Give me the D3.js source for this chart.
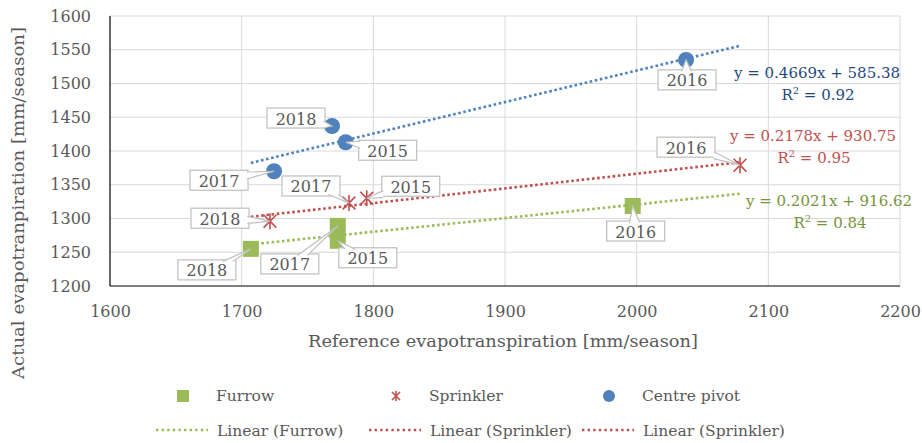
<!DOCTYPE html>
<html>
<head>
<meta charset="utf-8">
<script src="https://cdn.jsdelivr.net/npm/d3@7"></script>
<style>
  html, body { margin: 0; padding: 0; background: #fff; }
  svg { display: block; }
  text { font-family: "DejaVu Serif", "Liberation Serif", serif; }
</style>
</head>
<body>
<svg id="chart" width="922" height="443"></svg>
<script>
// ---------------- data ----------------
const years = ["2015", "2016", "2017", "2018"];
const furrowX = [1773, 1997, 1773, 1707];
const furrowY = [1267, 1318.5, 1289, 1255];
const sprinklerX = [1795, 2078.5, 1781.5, 1721.5];
const sprinklerY = [1330, 1379, 1323, 1296];
const pivotX = [1779, 2037.5, 1724.6, 1768.6];
const pivotY = [1413, 1535, 1370, 1437];

const seriesNames = ["Furrow", "Sprinkler", "Centre pivot"];
const trendNames = ["Linear (Furrow)", "Linear (Sprinkler)", "Linear (Sprinkler)"];
const slopes = [0.2021, 0.2178, 0.4669];
const intercepts = [916.62, 930.75, 585.38];
const r2 = [0.84, 0.95, 0.92];

const xTicks = [1600, 1700, 1800, 1900, 2000, 2100, 2200];
const yTicks = [1200, 1250, 1300, 1350, 1400, 1450, 1500, 1550, 1600];
const xTitle = "Reference evapotranspiration [mm/season]";
const yTitle = "Actual evapotranpiration [mm/season]";

// ---------------- layout / style ----------------
const colors = ["#9bbb59", "#c0504d", "#4f81bd"];
const eqColors = ["#77933c", "#c0504d", "#1f497d"];
// data label box offsets (px) from point, order follows years
const labelOffsets = [
  [[30, 17], [3, 25], [-48, 38], [-44, 21]],
  [[44, -12], [-54, -18], [-38, -17], [-50, -3]],
  [[42, 8], [1, 20], [-55, 9], [-36, -8]]
];
// equation offsets (px) from trendline end
const eqOffsets = [[89, 12], [73, -21], [77, 32]];

const svg = d3.select("#chart");
const x = d3.scaleLinear().domain([1600, 2200]).range([110, 900]);
const y = d3.scaleLinear().domain([1200, 1600]).range([286, 16]);

const series = [
  { xs: furrowX, ys: furrowY },
  { xs: sprinklerX, ys: sprinklerY },
  { xs: pivotX, ys: pivotY }
];

// grid
const grid = svg.append("g");
grid.selectAll("line.v").data(xTicks.slice(1)).join("line")
  .attr("x1", d => x(d)).attr("x2", d => x(d))
  .attr("y1", y(1200)).attr("y2", y(1600))
  .attr("stroke", "#d9d9d9").attr("stroke-width", 1);
grid.selectAll("line.h").data(yTicks.slice(1)).join("line")
  .attr("x1", x(1600)).attr("x2", x(2200))
  .attr("y1", d => y(d)).attr("y2", d => y(d))
  .attr("stroke", "#d9d9d9").attr("stroke-width", 1);

// axes
const xAxis = svg.append("g").attr("transform", `translate(0,${y(1200)})`)
  .call(d3.axisBottom(x).tickValues(xTicks).tickSize(0).tickPadding(20).tickFormat(d3.format("d")));
const yAxis = svg.append("g").attr("transform", `translate(${x(1600)},0)`)
  .call(d3.axisLeft(y).tickValues(yTicks).tickSize(0).tickPadding(19).tickFormat(d3.format("d")));
[xAxis, yAxis].forEach(a => {
  a.select(".domain").remove();
  a.selectAll("text").attr("fill", "#595959").style("font-size", "16px")
    .style("font-family", '"DejaVu Serif", serif');
});
svg.append("line").attr("x1", x(1600)).attr("x2", x(1600)).attr("y1", y(1600)).attr("y2", y(1200))
  .attr("stroke", "#000").attr("stroke-width", 1.2);
svg.append("line").attr("x1", x(1600)).attr("x2", x(2200)).attr("y1", y(1200)).attr("y2", y(1200))
  .attr("stroke", "#000").attr("stroke-width", 1.2);

// axis titles
svg.append("text").attr("x", 503).attr("y", 341).attr("text-anchor", "middle")
  .attr("dominant-baseline", "central").attr("fill", "#595959")
  .style("font-size", "17.5px").attr("textLength", 390).attr("lengthAdjust", "spacingAndGlyphs")
  .text(xTitle);
svg.append("text").attr("transform", "translate(18,203) rotate(-90)").attr("text-anchor", "middle")
  .attr("dominant-baseline", "central").attr("fill", "#595959")
  .style("font-size", "17.5px").attr("textLength", 352).attr("lengthAdjust", "spacingAndGlyphs")
  .text(yTitle);

// trendlines
const allX = [].concat(furrowX, sprinklerX, pivotX);
const xExt = d3.extent(allX);
const line = d3.line().x(d => x(d[0])).y(d => y(d[1]));
const trends = svg.append("g");
series.forEach((s, i) => {
  const pts = xExt.map(v => [v, slopes[i] * v + intercepts[i]]);
  trends.append("path").attr("d", line(pts)).attr("fill", "none")
    .attr("stroke", colors[i]).attr("stroke-width", 2.6)
    .attr("stroke-dasharray", "2.6 2.6");
});

// marker drawing
function drawMarker(g, type, cx, cy, size) {
  if (type === 0) {
    g.append("rect").attr("x", cx - size / 2).attr("y", cy - size / 2)
      .attr("width", size).attr("height", size).attr("fill", colors[0]);
  } else if (type === 1) {
    const h = size / 2;
    const p = `M${cx - h * 0.8},${cy - h * 0.8}L${cx + h * 0.8},${cy + h * 0.8}` +
      `M${cx + h * 0.8},${cy - h * 0.8}L${cx - h * 0.8},${cy + h * 0.8}` +
      `M${cx},${cy - h}L${cx},${cy + h}`;
    g.append("path").attr("d", p).attr("stroke", colors[1]).attr("stroke-width", 1.6).attr("fill", "none");
  } else {
    g.append("circle").attr("cx", cx).attr("cy", cy).attr("r", size / 2).attr("fill", colors[2]);
  }
}

const marks = svg.append("g");
series.forEach((s, i) => {
  s.xs.forEach((xv, j) => drawMarker(marks, i, x(xv), y(s.ys[j]), 16));
});

// data labels (callouts)
const labels = svg.append("g");
const bw = 58, bh = 20;
series.forEach((s, i) => {
  s.xs.forEach((xv, j) => {
    const px = x(xv), py = y(s.ys[j]);
    const cx = px + labelOffsets[i][j][0], cy = py + labelOffsets[i][j][1];
    const g = labels.append("g");
    g.append("rect").attr("x", cx - bw / 2).attr("y", cy - bh / 2).attr("width", bw).attr("height", bh)
      .attr("fill", "#fff").attr("stroke", "#bfbfbf").attr("stroke-width", 1.2);
    // wedge
    const dx = px - cx, dy = py - cy;
    let b1, b2;
    const tx = dx !== 0 ? (bw / 2) / Math.abs(dx) : Infinity;
    const ty = dy !== 0 ? (bh / 2) / Math.abs(dy) : Infinity;
    if (tx < ty) {
      const ex = cx + Math.sign(dx) * (bw / 2 - 1.5);
      const ey = cy + dy * tx;
      const ey2 = Math.max(cy - bh / 2 + 2, Math.min(cy + bh / 2 - 2, ey));
      b1 = [ex, ey2 - 3.5]; b2 = [ex, ey2 + 3.5];
    } else {
      const ey = cy + Math.sign(dy) * (bh / 2 - 1.5);
      const ex = cx + dx * ty;
      const ex2 = Math.max(cx - bw / 2 + 4, Math.min(cx + bw / 2 - 4, ex));
      b1 = [ex2 - 5, ey]; b2 = [ex2 + 5, ey];
    }
    g.append("path").attr("d", `M${b1[0]},${b1[1]}L${px},${py}L${b2[0]},${b2[1]}`)
      .attr("fill", "#fff").attr("stroke", "#bfbfbf").attr("stroke-width", 1.2);
    g.append("text").attr("x", cx).attr("y", cy + 1).attr("text-anchor", "middle")
      .attr("dominant-baseline", "central").attr("fill", "#595959")
      .style("font-size", "16px").text(years[j]);
  });
});

// equations
const eqs = svg.append("g");
series.forEach((s, i) => {
  const ex = x(xExt[1]), ey = y(slopes[i] * xExt[1] + intercepts[i]);
  const cx = ex + eqOffsets[i][0], by = ey + eqOffsets[i][1];
  eqs.append("text").attr("x", cx).attr("y", by).attr("text-anchor", "middle")
    .attr("fill", eqColors[i]).style("font-size", "15px")
    .text(`y = ${slopes[i].toFixed(4)}x + ${intercepts[i].toFixed(2)}`);
  const t = eqs.append("text").attr("x", cx + 1).attr("y", by + 22).attr("text-anchor", "middle")
    .attr("fill", eqColors[i]).style("font-size", "15px");
  t.append("tspan").text("R");
  t.append("tspan").attr("dy", -6).style("font-size", "10px").text("2");
  t.append("tspan").attr("dy", 6).text(` = ${r2[i].toFixed(2)}`);
});

// legend
const leg = svg.append("g");
const colX = [183, 396, 609];
seriesNames.forEach((n, i) => {
  drawMarker(leg, i, colX[i], 396, i === 1 ? 10 : 12);
  leg.append("text").attr("x", colX[i] + 33).attr("y", 396).attr("dominant-baseline", "central")
    .attr("fill", "#595959").style("font-size", "15.5px").text(n);
});
trendNames.forEach((n, i) => {
  leg.append("line").attr("x1", colX[i] - 27).attr("x2", colX[i] + 25).attr("y1", 430).attr("y2", 430)
    .attr("stroke", colors[Math.min(i, 1)]).attr("stroke-width", 2.4).attr("stroke-dasharray", "2.4 3.2");
  leg.append("text").attr("x", colX[i] + 34).attr("y", 431).attr("dominant-baseline", "central")
    .attr("fill", "#595959").style("font-size", "15.5px").text(n);
});
</script>
</body>
</html>
